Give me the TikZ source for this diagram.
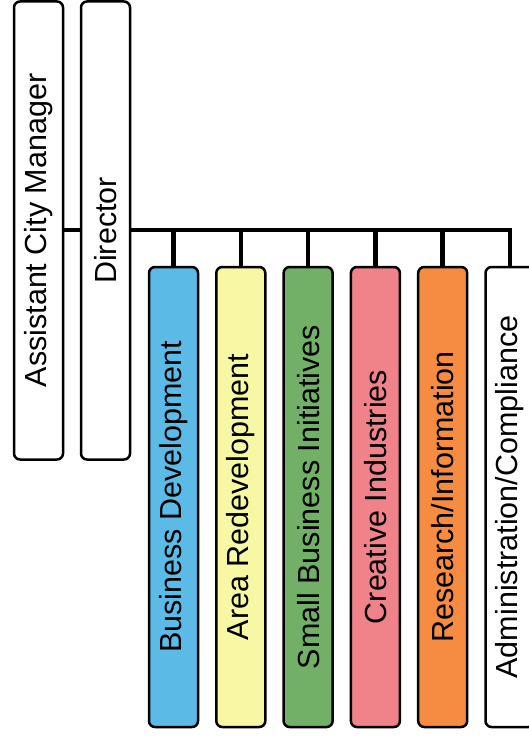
\documentclass[tikz,border=0pt]{standalone}
\usepackage{fontspec}
\setmainfont{Liberation Sans}
\definecolor{cblue}{HTML}{5BBAE6}
\definecolor{cyellow}{HTML}{F7F7A4}
\definecolor{cgreen}{HTML}{72B068}
\definecolor{cpink}{HTML}{F0828A}
\definecolor{corange}{HTML}{F58C41}
\begin{document}
\begin{tikzpicture}[x=1pt,y=-1pt,
  orgbox/.style={draw=black, line width=2.5pt, rounded corners=6pt, minimum width=49pt, inner sep=0pt, font=\fontsize{30.5}{32}\selectfont},
  topbox/.style={orgbox, minimum height=458pt},
  unitbox/.style={orgbox, minimum height=460pt},
  link/.style={draw=black, line width=4.5pt}]
\useasboundingbox (0,0) rectangle (529,738);
\clip (0,0) rectangle (529,738);
\node[topbox, fill=white] (acm) at (38.5,230.5) {\rotatebox{90}{Assistant City Manager}};
\node[topbox, fill=white] (dir) at (105.5,230.5) {\rotatebox{90}{Director}};
\node[unitbox, fill=cblue] (u1) at (173.5,497) {\rotatebox{90}{Business Development}};
\node[unitbox, fill=cyellow] (u2) at (240.8,497) {\rotatebox{90}{Area Redevelopment}};
\node[unitbox, fill=cgreen] (u3) at (308.1,497) {\rotatebox{90}{Small Business Initiatives}};
\node[unitbox, fill=cpink] (u4) at (375.4,497) {\rotatebox{90}{Creative Industries}};
\node[unitbox, fill=corange] (u5) at (442.7,497) {\rotatebox{90}{Research/Information}};
\node[unitbox, fill=white] (u6) at (510,497) {\rotatebox{90}{Administration/Compliance}};
\coordinate (bar) at (0,230);
\draw[link] (acm.east |- bar) -- (dir.west |- bar);
\draw[link, line join=miter] (dir.east |- bar) -- (u6.north |- bar) -- (u6.north);
\foreach \u in {u1,u2,u3,u4,u5}
  \draw[link] (\u.north |- bar) -- (\u.north);
\end{tikzpicture}
\end{document}
